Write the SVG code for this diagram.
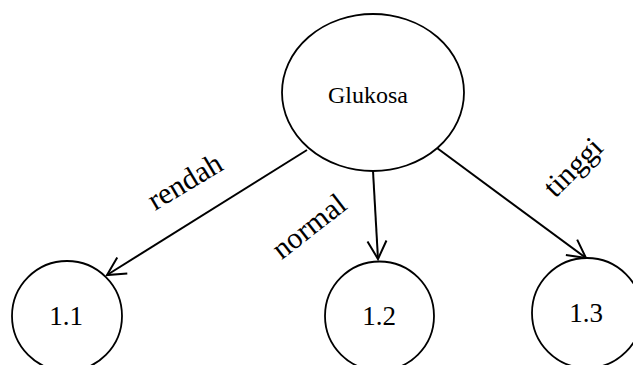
<svg xmlns="http://www.w3.org/2000/svg" width="633" height="365" viewBox="0 0 633 365">
  <style>
    .node { fill: #ffffff; stroke: #000000; stroke-width: 1.8; }
    .edge { fill: none; stroke: #000000; stroke-width: 2; }
    text { fill: #000000; font-family: "Liberation Serif", "Times New Roman", serif; }
  </style>
  <defs>
    <!-- open V arrowhead used by all three branches -->
    <marker id="open-arrow" markerWidth="22" markerHeight="22" refX="19" refY="11" orient="auto" markerUnits="userSpaceOnUse">
      <path d="M1,1.5 L19,11 L1,20.5" fill="none" stroke="#000000" stroke-width="2"/>
    </marker>
  </defs>
  <rect width="633" height="365" fill="#ffffff"/>

  <g id="connectors">
    <line class="edge" x1="307" y1="150" x2="107" y2="275" marker-end="url(#open-arrow)"/>
    <line class="edge" x1="373" y1="171" x2="378" y2="259" marker-end="url(#open-arrow)"/>
    <line class="edge" x1="437" y1="148" x2="586" y2="258" marker-end="url(#open-arrow)"/>
    <text font-size="30" transform="translate(190,190) rotate(-31)" text-anchor="middle">rendah</text>
    <text font-size="30" transform="translate(315,234) rotate(-38)" text-anchor="middle">normal</text>
    <text font-size="30" transform="translate(580,174) rotate(-45)" text-anchor="middle">tinggi</text>
  </g>

  <g id="glukosa">
    <ellipse class="node" cx="373" cy="92.5" rx="91" ry="78.5"/>
    <text x="368" y="103" font-size="24" text-anchor="middle">Glukosa</text>
  </g>
  <g id="n1-1">
    <circle class="node" cx="67" cy="316" r="55"/>
    <text x="66" y="325" font-size="27" text-anchor="middle">1.1</text>
  </g>
  <g id="n1-2">
    <circle class="node" cx="379.5" cy="316" r="54.5"/>
    <text x="379" y="325" font-size="27" text-anchor="middle">1.2</text>
  </g>
  <g id="n1-3">
    <circle class="node" cx="587" cy="313" r="55"/>
    <text x="586" y="322" font-size="27" text-anchor="middle">1.3</text>
  </g>
</svg>
